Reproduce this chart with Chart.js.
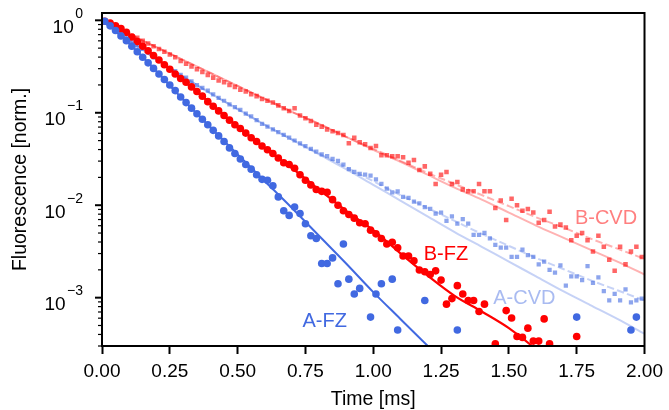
<!DOCTYPE html>
<html>
<head>
<meta charset="utf-8">
<script src="https://cdn.jsdelivr.net/npm/chart.js@4.4.1/dist/chart.umd.min.js"></script>
<style>
  html, body { margin: 0; padding: 0; background: #fff; }
  #wrap { width: 669px; height: 410px; }
</style>
</head>
<body>
<div id="wrap"><canvas id="myChart"></canvas></div>
<script>
// time of each sample [ms]
const times = [
  0.01, 0.03, 0.05, 0.07, 0.09, 0.11, 0.13, 0.15, 0.17, 0.19,
  0.21, 0.23, 0.25, 0.27, 0.29, 0.31, 0.33, 0.35, 0.37, 0.39,
  0.41, 0.43, 0.45, 0.47, 0.49, 0.51, 0.53, 0.55, 0.57, 0.59,
  0.61, 0.63, 0.65, 0.67, 0.69, 0.71, 0.73, 0.75, 0.77, 0.79,
  0.81, 0.83, 0.85, 0.87, 0.89, 0.91, 0.93, 0.95, 0.97, 0.99,
  1.01, 1.03, 1.05, 1.07, 1.09, 1.11, 1.13, 1.15, 1.17, 1.19,
  1.21, 1.23, 1.25, 1.27, 1.29, 1.31, 1.33, 1.35, 1.37, 1.39,
  1.41, 1.43, 1.45, 1.47, 1.49, 1.51, 1.53, 1.55, 1.57, 1.59,
  1.61, 1.63, 1.65, 1.67, 1.69, 1.71, 1.73, 1.75, 1.77, 1.79,
  1.81, 1.83, 1.85, 1.87, 1.89, 1.91, 1.93, 1.95, 1.97, 1.99
];

// measured fluorescence, read off in decades (log10 of normalized value)
// null = below the plotted range
const aFz = [
  -0.01, -0.06, -0.11, -0.17, -0.22, -0.28, -0.34, -0.40, -0.46, -0.52,
  -0.58, -0.64, -0.70, -0.76, -0.83, -0.89, -0.95, -1.01, -1.07, -1.13,
  -1.19, -1.25, -1.31, -1.38, -1.44, -1.50, -1.56, -1.61, -1.67, -1.72,
  -1.73, -1.79, -1.91, -2.06, -2.11, -2.02, -2.09, -2.20, -2.33, -2.36,
  -2.63, -2.63, -2.57, -2.85, -2.42, -2.80, -2.96, -2.90, null, -3.21,
  -2.96, -2.85, null, -2.80, -3.35, null, null, null, null, -3.03,
  null, null, null, null, null, -3.35, null, null, null, null,
  null, null, null, null, null, null, null, null, null, null,
  null, null, null, null, null, null, null, -3.21, null, null,
  null, null, null, null, null, null, null, -3.35, -3.21, null
];
const bFz = [
  -0.01, -0.03, -0.06, -0.09, -0.13, -0.18, -0.23, -0.28, -0.33, -0.38,
  -0.43, -0.48, -0.53, -0.58, -0.63, -0.67, -0.72, -0.77, -0.82, -0.88,
  -0.93, -0.98, -1.03, -1.08, -1.13, -1.17, -1.22, -1.27, -1.31, -1.36,
  -1.40, -1.44, -1.49, -1.54, -1.56, -1.60, -1.67, -1.73, -1.78, -1.83,
  -1.85, -1.86, -1.94, -2.00, -2.06, -2.10, -2.14, -2.19, -2.20, -2.27,
  -2.31, -2.36, -2.42, -2.40, -2.46, -2.55, -2.55, -2.60, -2.70, -2.72,
  -2.75, -2.71, -2.81, -3.07, -3.01, -2.87, -2.96, -3.03, -3.03, -3.15,
  -3.07, null, -3.50, null, -3.14, -3.22, -3.42, -3.43, -3.33, -3.47,
  -3.47, -3.23, -3.50, null, null, null, null, -3.42, null, null,
  null, null, null, null, null, null, null, null, null, null
];
const aCvd = [
  -0.02, -0.06, -0.10, -0.15, -0.19, -0.23, -0.27, -0.31, -0.35, -0.40,
  -0.44, -0.48, -0.52, -0.55, -0.59, -0.62, -0.66, -0.70, -0.73, -0.76,
  -0.80, -0.84, -0.87, -0.91, -0.94, -0.97, -1.01, -1.04, -1.08, -1.12,
  -1.15, -1.18, -1.21, -1.24, -1.27, -1.30, -1.33, -1.36, -1.39, -1.42,
  -1.45, -1.47, -1.50, -1.52, -1.56, -1.61, -1.64, -1.66, -1.67, -1.68,
  -1.72, -1.77, -1.82, -1.86, -1.85, -1.91, -1.92, -1.96, -1.98, -2.02,
  -2.04, -2.09, -2.08, -2.17, -2.12, -2.20, -2.15, -2.20, -2.32, -2.32,
  -2.30, -2.36, -2.43, -2.46, -2.46, -2.56, -2.56, -2.48, -2.54, -2.56,
  -2.64, -2.61, -2.70, -2.73, -2.65, -2.87, -2.77, -2.77, -2.81, -2.66,
  -2.84, -2.78, -2.93, -3.03, -2.96, -3.03, -2.91, -3.05, -3.03, -3.01
];
const bCvd = [
  -0.01, -0.05, -0.08, -0.11, -0.14, -0.17, -0.19, -0.22, -0.25, -0.28,
  -0.31, -0.34, -0.37, -0.40, -0.44, -0.47, -0.50, -0.53, -0.56, -0.59,
  -0.62, -0.65, -0.67, -0.70, -0.72, -0.75, -0.77, -0.80, -0.82, -0.85,
  -0.87, -0.89, -0.92, -0.95, -0.98, -0.95, -1.03, -1.06, -1.09, -1.13,
  -1.15, -1.18, -1.20, -1.22, -1.24, -1.33, -1.27, -1.32, -1.34, -1.38,
  -1.36, -1.46, -1.46, -1.47, -1.47, -1.48, -1.54, -1.51, -1.62, -1.58,
  -1.66, -1.77, -1.67, -1.64, -1.77, -1.75, -1.83, -1.85, -1.85, -1.77,
  -1.85, -1.85, -2.03, -1.95, -2.16, -1.93, -2.00, -2.06, -2.04, -2.08,
  -2.19, -2.16, -2.07, -2.23, -2.21, -2.24, -2.38, -2.33, -2.30, -2.38,
  -2.50, -2.33, -2.45, -2.59, -2.71, -2.45, -2.64, -2.50, -2.45, -2.56
];

// fitted curves (log10), sampled every 0.1 ms
const fitTimes = [0, 0.1, 0.2, 0.3, 0.4, 0.5, 0.6, 0.7, 0.8, 0.9, 1.0,
                  1.1, 1.2, 1.3, 1.4, 1.5, 1.6, 1.7, 1.8, 1.9, 2.0];
const aFzFit = [0, -0.25, -0.55, -0.86, -1.16, -1.45, -1.74, -2.03, -2.33, -2.63,
                -2.94, -3.23, -3.52, -3.81];
const bFzFit = [0, -0.155, -0.405, -0.65, -0.90, -1.15, -1.38, -1.60, -1.83, -2.06,
                -2.27, -2.52, -2.76, -2.98, -3.15, -3.33, -3.56, -3.85];
const aCvdFit = [0, -0.22, -0.42, -0.61, -0.79, -0.96, -1.13, -1.29, -1.45, -1.61,
                 -1.78, -1.95, -2.12, -2.29, -2.45, -2.61, -2.77, -2.93, -3.08, -3.23, -3.39];
const aCvdFitBg = [0, -0.22, -0.42, -0.61, -0.79, -0.96, -1.13, -1.29, -1.44, -1.59,
                   -1.74, -1.89, -2.03, -2.17, -2.31, -2.44, -2.57, -2.69, -2.81, -2.92, -3.03];
const bCvdFit = [0, -0.15, -0.29, -0.43, -0.57, -0.71, -0.85, -0.99, -1.12, -1.26,
                 -1.40, -1.53, -1.67, -1.81, -1.94, -2.08, -2.22, -2.35, -2.48, -2.61, -2.75];
const bCvdFitBg = [0, -0.15, -0.29, -0.43, -0.57, -0.71, -0.85, -0.99, -1.12, -1.26,
                   -1.39, -1.52, -1.65, -1.77, -1.89, -2.01, -2.13, -2.24, -2.36, -2.47, -2.58];

const xTicks = [0, 0.25, 0.5, 0.75, 1.0, 1.25, 1.5, 1.75, 2.0];
const yDecades = [-4, -3, -2, -1, 0];

const FONT = "'Liberation Sans', Arial, sans-serif";
const BLUE = '#4169E1';
const RED = '#FF0000';

function points(ts, logs) {
    var out = [];
    for (var i = 0; i < logs.length; i++) {
        if (logs[i] === null) continue;
        out.push({x: ts[i], y: Math.pow(10, logs[i])});
    }
    return out;
}

// series names, placed in data coordinates
const seriesLabels = [
    {text: 'A-FZ', t: 0.821, v: 5.5e-4, color: BLUE},
    {text: 'B-FZ', t: 1.268, v: 2.96e-3, color: RED},
    {text: 'A-CVD', t: 1.557, v: 9.7e-4, color: 'rgba(65,105,225,0.45)'},
    {text: 'B-CVD', t: 1.858, v: 7.15e-3, color: 'rgba(255,0,0,0.5)'}
];

const decor = {
    id: 'decor',
    afterDraw(chart) {
        const ctx = chart.ctx;
        const a = chart.chartArea;
        const x = chart.scales.x, y = chart.scales.y;
        ctx.save();
        ctx.strokeStyle = '#000';
        ctx.lineWidth = 2;
        ctx.strokeRect(a.left, a.top, a.right - a.left, a.bottom - a.top);

        // log ticks + 10^n labels
        for (const d of yDecades) {
            for (let m = 1; m < 10; m++) {
                const v = m * Math.pow(10, d);
                if (v < y.min || v > y.max) continue;
                const py = y.getPixelForValue(v);
                const major = m === 1;
                ctx.lineWidth = major ? 2 : 1.2;
                ctx.beginPath();
                ctx.moveTo(a.left - (major ? 7 : 4), py);
                ctx.lineTo(a.left, py);
                ctx.stroke();
                if (major) {
                    const exp = d === 0 ? '0' : '\u2212' + (-d);
                    ctx.fillStyle = '#000';
                    ctx.textAlign = 'left';
                    ctx.textBaseline = 'alphabetic';
                    ctx.font = '19px ' + FONT;
                    const w10 = ctx.measureText('10').width;
                    ctx.font = '14px ' + FONT;
                    const wExp = ctx.measureText(exp).width;
                    const x0 = 83 - w10 - 1.5 - wExp;
                    ctx.font = '19px ' + FONT;
                    ctx.fillText('10', x0, py + 12.5);
                    ctx.font = '14px ' + FONT;
                    ctx.fillText(exp, x0 + w10 + 1.5, py - 2.5);
                }
            }
        }

        ctx.font = '20px ' + FONT;
        ctx.textAlign = 'center';
        ctx.textBaseline = 'middle';
        for (const l of seriesLabels) {
            ctx.fillStyle = l.color;
            ctx.fillText(l.text, x.getPixelForValue(l.t), y.getPixelForValue(l.v));
        }
        ctx.restore();
    }
};

const ctx = document.getElementById('myChart').getContext('2d');
const myChart = new Chart(ctx, {
    type: 'scatter',
    data: {
        datasets: [
            {
                label: 'A-FZ',
                data: points(times, aFz),
                pointStyle: 'circle',
                pointRadius: 3.8,
                backgroundColor: BLUE,
                borderWidth: 0
            },
            {
                label: 'A-FZ fit',
                data: points(fitTimes, aFzFit),
                showLine: true,
                pointRadius: 0,
                borderColor: BLUE,
                borderWidth: 2,
                cubicInterpolationMode: 'monotone'
            },
            {
                label: 'B-FZ',
                data: points(times, bFz),
                pointStyle: 'circle',
                pointRadius: 3.8,
                backgroundColor: RED,
                borderWidth: 0
            },
            {
                label: 'B-FZ fit',
                data: points(fitTimes, bFzFit),
                showLine: true,
                pointRadius: 0,
                borderColor: RED,
                borderWidth: 2.2,
                cubicInterpolationMode: 'monotone'
            },
            {
                label: 'A-CVD',
                data: points(times, aCvd),
                pointStyle: 'rect',
                pointRadius: 3,
                backgroundColor: 'rgba(65,105,225,0.6)',
                borderWidth: 0
            },
            {
                label: 'B-CVD',
                data: points(times, bCvd),
                pointStyle: 'rect',
                pointRadius: 3.2,
                backgroundColor: 'rgba(255,0,0,0.6)',
                borderWidth: 0
            },
            {
                label: 'A-CVD fit',
                data: points(fitTimes, aCvdFit),
                showLine: true,
                pointRadius: 0,
                borderColor: 'rgba(65,105,225,0.3)',
                borderWidth: 2,
                cubicInterpolationMode: 'monotone'
            },
            {
                label: 'A-CVD fit bg',
                data: points(fitTimes, aCvdFitBg),
                showLine: true,
                pointRadius: 0,
                borderColor: 'rgba(65,105,225,0.3)',
                borderWidth: 2,
                borderDash: [7.4, 3.2],
                cubicInterpolationMode: 'monotone'
            },
            {
                label: 'B-CVD fit',
                data: points(fitTimes, bCvdFit),
                showLine: true,
                pointRadius: 0,
                borderColor: 'rgba(255,0,0,0.3)',
                borderWidth: 2,
                cubicInterpolationMode: 'monotone'
            },
            {
                label: 'B-CVD fit bg',
                data: points(fitTimes, bCvdFitBg),
                showLine: true,
                pointRadius: 0,
                borderColor: 'rgba(255,0,0,0.3)',
                borderWidth: 2,
                borderDash: [7.4, 3.2],
                cubicInterpolationMode: 'monotone'
            }
        ]
    },
    options: {
        responsive: true,
        maintainAspectRatio: false,
        animation: false,
        clip: 0,
        layout: { padding: { top: 13, right: 23, left: 0, bottom: 0 } },
        plugins: { legend: { display: false }, tooltip: { enabled: false } },
        scales: {
            x: {
                type: 'linear',
                min: 0,
                max: 2,
                afterBuildTicks: function(axis) {
                    axis.ticks = xTicks.map(v => ({value: v}));
                },
                afterFit: function(axis) { axis.height = 64; },
                ticks: {
                    font: { family: FONT, size: 19 },
                    color: '#000',
                    padding: 6,
                    maxRotation: 0,
                    callback: v => v.toFixed(2)
                },
                grid: {
                    drawOnChartArea: false,
                    tickLength: 8,
                    tickWidth: 2,
                    tickColor: '#000'
                },
                border: { color: '#000', width: 2 },
                title: {
                    display: true,
                    text: 'Time [ms]',
                    color: '#000',
                    font: { family: FONT, size: 19.5 },
                    padding: { top: 0, bottom: -1 }
                }
            },
            y: {
                type: 'logarithmic',
                min: 3e-4,
                max: 1.2,
                afterFit: function(axis) { axis.width = 102; },
                ticks: { display: false },
                grid: { display: false },
                border: { color: '#000', width: 2 },
                title: {
                    display: true,
                    text: 'Fluorescence [norm.]',
                    color: '#000',
                    font: { family: FONT, size: 19.5 },
                    padding: { top: 9, bottom: 0 }
                }
            }
        }
    },
    plugins: [decor]
});
</script>
</body>
</html>
